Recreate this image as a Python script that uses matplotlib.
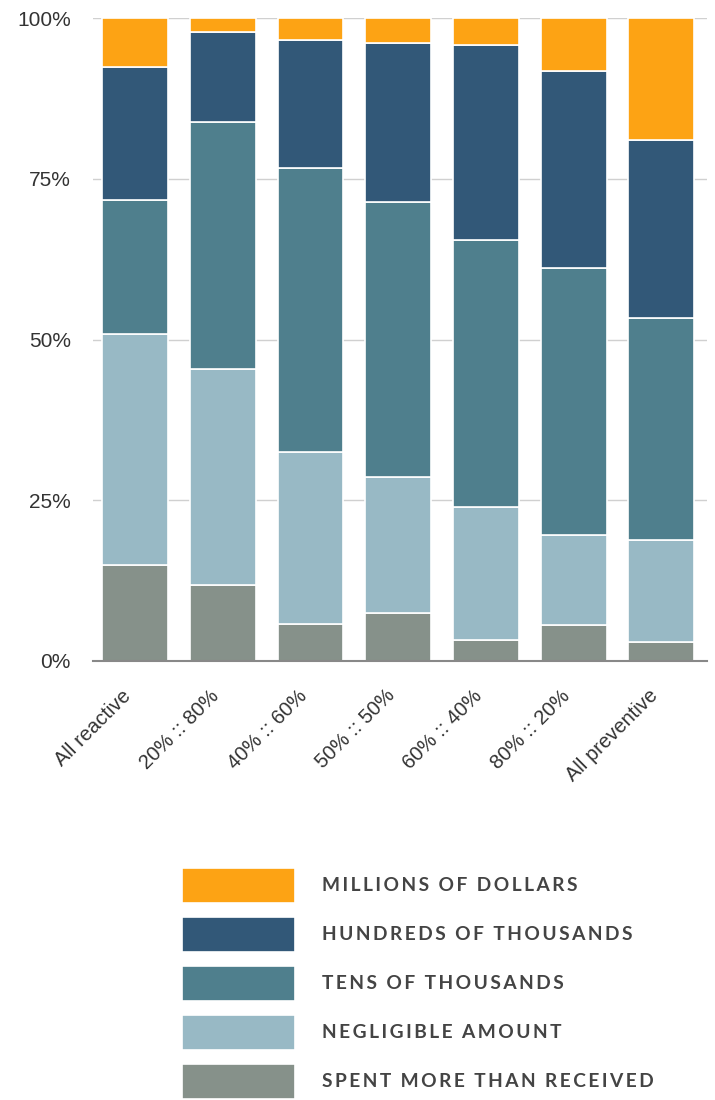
import matplotlib
matplotlib.use('Agg')
import matplotlib.pyplot as plt
import numpy as np

categories = ["All reactive", "20% :: 80%", "40% :: 60%", "50% :: 50%",
              "60% :: 40%", "80% :: 20%", "All preventive"]
spent = [15.0, 11.8, 5.8, 7.5, 3.3, 5.6, 3.0]
negligible = [35.9, 33.6, 26.7, 21.1, 20.7, 14.0, 15.8]
tens = [20.8, 38.4, 44.1, 42.8, 41.5, 41.5, 34.5]
hundreds = [20.7, 14.1, 20.0, 24.7, 30.3, 30.7, 27.8]
millions = [7.6, 2.1, 3.4, 3.9, 4.2, 8.2, 18.9]
series_names = ["SPENT MORE THAN RECEIVED", "NEGLIGIBLE AMOUNT",
                "TENS OF THOUSANDS", "HUNDREDS OF THOUSANDS", "MILLIONS OF DOLLARS"]
series_colors = ["#86918A", "#98B9C5", "#4F7F8D", "#325878", "#FDA314"]
yticks = [0, 25, 50, 75, 100]
ytick_labels = ["0%", "25%", "50%", "75%", "100%"]

W, H = 715, 1100
fig = plt.figure(figsize=(W / 100, H / 100), dpi=100)
ax = fig.add_axes([93 / W, 1 - 661 / H, (707 - 93) / W, (661 - 18) / H])

x = np.arange(len(categories))
series = [spent, negligible, tens, hundreds, millions]
bottom = np.zeros(len(categories))
containers = []
for vals, name, col in zip(series, series_names, series_colors):
    c = ax.bar(x, vals, width=0.75, bottom=bottom, color=col,
               edgecolor="white", linewidth=1.2, label=name, zorder=3)
    containers.append(c)
    bottom += np.array(vals)

ax.set_xlim(-0.48, 6.52)
ax.set_ylim(0, 100)
ax.set_yticks(yticks, ytick_labels)
ax.set_xticks(x, categories, rotation=45, ha="right")
for lab in ax.get_xticklabels():
    lab.set_fontfamily(["Liberation Sans", "DejaVu Sans"])
    lab.set_fontsize(14.5)
    lab.set_color("#333333")
for lab in ax.get_yticklabels():
    lab.set_fontfamily(["Liberation Sans", "DejaVu Sans"])
    lab.set_fontsize(15)
    lab.set_color("#333333")
ax.tick_params(axis="y", length=0, pad=16)
ax.tick_params(axis="x", length=0, pad=18)
ax.grid(axis="y", color="#d0d0d0", linewidth=1, zorder=0)
ax.set_axisbelow(True)
for s in ["top", "right", "left"]:
    ax.spines[s].set_visible(False)
ax.spines["bottom"].set_color("#888888")
ax.spines["bottom"].set_linewidth(1.5)
ax.spines["bottom"].set_zorder(4)

def tracked(s):
    words = s.split(" ")
    return "\u2009 \u2009".join("\u200a\u200a".join(list(w)) for w in words)

fs = 13.8
fs_px = fs * 100 / 72
# legend handle geometry (matplotlib subtracts a descent from handleheight)
hh = ((35 * 0.72) / fs - 0.245) / 0.65
handles = containers[::-1]
labels = [tracked(n) for n in series_names[::-1]]
leg = fig.legend(handles, labels, loc="upper left",
                 bbox_to_anchor=(182 / W, 1 - 868 / H),
                 frameon=False, borderpad=0, borderaxespad=0,
                 handlelength=113 / fs_px, handleheight=hh,
                 handletextpad=27 / fs_px, labelspacing=14 / fs_px,
                 prop={"family": ["Lato", "DejaVu Sans"], "size": fs, "weight": "bold"})
for t in leg.get_texts():
    t.set_color("#444444")

fig.savefig("out.png", dpi=100, facecolor="white")
